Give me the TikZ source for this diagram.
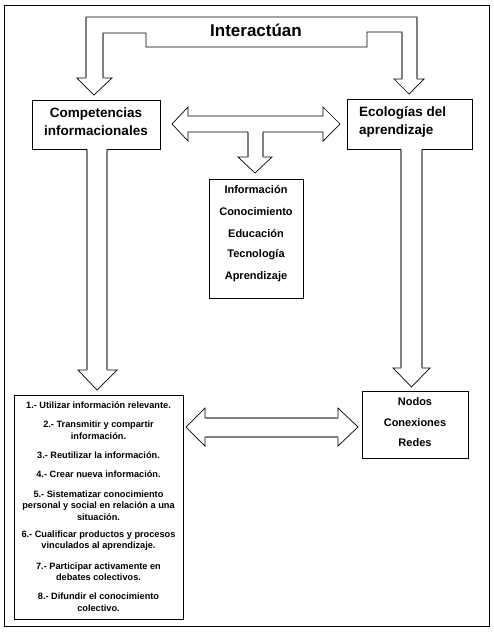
\documentclass[tikz,border=0pt]{standalone}
\usepackage{fontspec}
\setmainfont{Liberation Sans}
\begin{document}
\begin{tikzpicture}[x=1pt,y=-1pt,
  box/.style={draw=black,line width=0.9pt,fill=white,inner sep=0pt},
  frame/.style={draw=black,line width=1pt,inner sep=0pt},
  blockarrow/.style={draw=black,line width=0.7pt,fill=white,line join=miter},
  shaft/.style={draw=black!50,line width=1.4pt},
  title/.style={font=\bfseries\fontsize{17}{20}\selectfont,inner sep=0pt},
  head/.style={font=\bfseries\fontsize{13.5}{18}\selectfont,inner sep=0pt},
  mid/.style={font=\bfseries\fontsize{11}{13}\selectfont,inner sep=0pt},
  small/.style={font=\bfseries\fontsize{9.2}{11.5}\selectfont,align=center,inner sep=0pt}]
\useasboundingbox (0,0) rectangle (494,633);
\node[frame,minimum width=485pt,minimum height=621pt] (frm) at (246.5,315.5) {};

% top bent block arrow
\draw[blockarrow] (77,78) -- (94,95) -- (112,78) -- (103,78) -- (103,33) -- (146,33) -- (146,47)
  -- (367,47) -- (367,32) -- (402,32) -- (402,79) -- (394,79) -- (409,94) -- (424,79)
  -- (417,79) -- (417,17) -- (86,17) -- (86,78) -- cycle;
\draw[shaft] (86,17.5) -- (86,78) (103,33.5) -- (103,78) (402,32.5) -- (402,79) (417,17.5) -- (417,79);
\node[title] (inter) at (256,30.5) {Interactúan};

% boxes
\node[box,minimum width=128pt,minimum height=49pt] (comp) at (96,125) {};
\node[head,align=center] (compt) at (96,122) {Competencias\\informacionales};
\node[box,minimum width=125pt,minimum height=50pt] (eco) at (409.5,124) {};
\node[head,align=left,anchor=west] (ecot) at (359,121.5) {Ecologías del\\aprendizaje};

% middle T double arrow
\draw[blockarrow] (172,124) -- (188,107) -- (188,116) -- (323,116) -- (323,107) -- (340,124)
  -- (323,141) -- (323,132) -- (263,132) -- (263,157) -- (272,157) -- (255,173) -- (238,157)
  -- (248,157) -- (248,132) -- (188,132) -- (188,141) -- cycle;
\draw[shaft] (248,132.5) -- (248,157) (263,132.5) -- (263,157);

\node[box,minimum width=94pt,minimum height=119pt] (midbox) at (256,238.5) {};
\node[mid] (m1) at (256,190) {Información};
\node[mid] (m2) at (256,211.6) {Conocimiento};
\node[mid] (m3) at (256,233.2) {Educación};
\node[mid] (m4) at (256,254.8) {Tecnología};
\node[mid] (m5) at (256,276.4) {Aprendizaje};

% vertical arrows down
\draw[blockarrow] (87,149) -- (87,370) -- (78,370) -- (97,390) -- (117,370) -- (107,370) -- (107,149);
\draw[shaft] (87,150) -- (87,370) (107,150) -- (107,370);
\draw[blockarrow] (401,149) -- (401,368) -- (393,368) -- (411.5,387) -- (430,368) -- (422,368) -- (422,149);
\draw[shaft] (401,150) -- (401,368) (422,150) -- (422,368);

% bottom boxes
\node[box,minimum width=169pt,minimum height=224pt] (list) at (98.5,507) {};
\node[small] (l1) at (98.5,405) {1.- Utilizar información relevante.};
\node[small] (l2) at (98.5,430) {2.- Transmitir y compartir\\información.};
\node[small] (l3) at (98.5,455) {3.- Reutilizar la información.};
\node[small] (l4) at (98.5,474) {4.- Crear nueva información.};
\node[small] (l5) at (98.5,505.5) {5.- Sistematizar conocimiento\\personal y social en relación a una\\situación.};
\node[small] (l6) at (98.5,540.5) {6.- Cualificar productos y procesos\\vinculados al aprendizaje.};
\node[small] (l7) at (98.5,571.5) {7.- Participar activamente en\\debates colectivos.};
\node[small] (l8) at (98.5,602) {8.- Difundir el conocimiento\\colectivo.};

\node[box,minimum width=106pt,minimum height=67pt] (nodos) at (415,424.5) {};
\node[mid] (n1) at (415,402) {Nodos};
\node[mid] (n2) at (415,422.5) {Conexiones};
\node[mid] (n3) at (415,443) {Redes};

% bottom double arrow
\draw[blockarrow] (186,427) -- (205,408) -- (205,418) -- (338,418) -- (338,408) -- (358,427)
  -- (338,446) -- (338,437) -- (205,437) -- (205,446) -- cycle;
\draw[shaft] (205.5,418) -- (337.5,418) (205.5,437) -- (337.5,437);
\end{tikzpicture}
\end{document}
